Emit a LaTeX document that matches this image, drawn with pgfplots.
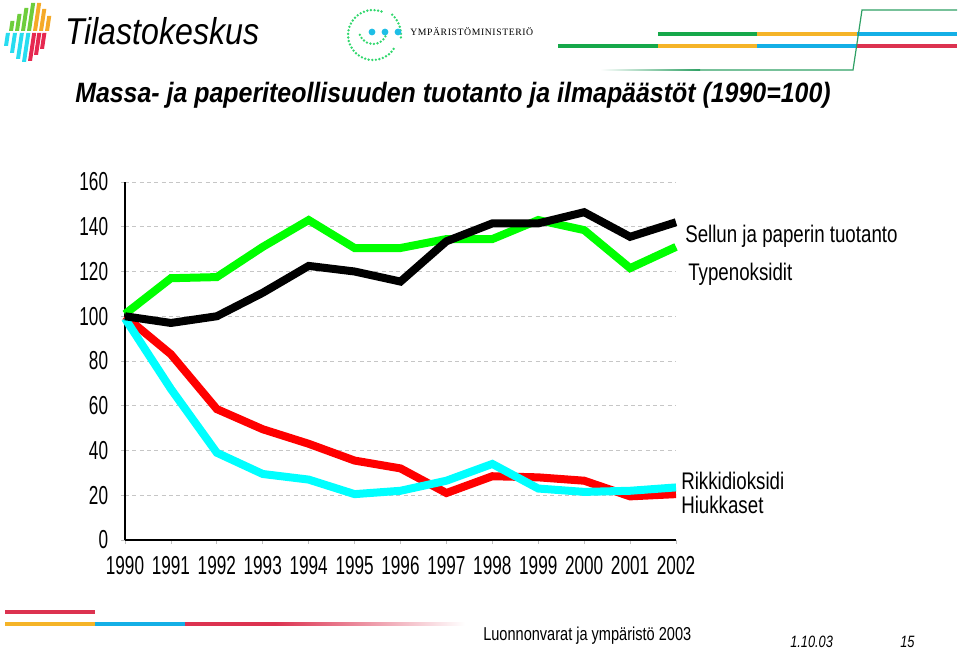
\documentclass[border=0pt]{standalone}
\usepackage{fontspec}
\setmainfont{Liberation Sans}
\newfontfamily\lab[FakeStretch=0.78]{Liberation Sans}
\newfontfamily\tickf[FakeStretch=0.66]{Liberation Sans}
\newfontfamily\titf[FakeStretch=0.89]{Liberation Sans}
\newfontfamily\logof[FakeStretch=0.86]{Liberation Sans}
\newfontfamily\ymf[LetterSpace=6]{Liberation Serif}
\usepackage{pgfplots}
\pgfplotsset{compat=1.18}
\definecolor{lgreen}{RGB}{0,255,0}
\definecolor{lcyan}{RGB}{0,255,255}
\definecolor{lred}{RGB}{255,0,0}
\definecolor{bgreen}{RGB}{22,168,74}
\definecolor{borange}{RGB}{245,180,40}
\definecolor{bblue}{RGB}{20,175,230}
\definecolor{bred}{RGB}{220,50,80}
\definecolor{tgreen}{RGB}{46,160,100}
\definecolor{dgreen}{RGB}{50,215,110}
\definecolor{dcyan}{RGB}{30,190,230}
\definecolor{kgreen}{RGB}{110,205,60}
\definecolor{korange}{RGB}{245,170,40}
\definecolor{kcyan}{RGB}{40,220,240}
\definecolor{kred}{RGB}{230,40,80}
\newcommand\lbar[4]{\fill[#4] (#1,#3) -- ({#1+4},#3) -- ({#1+4+0.15*(#3-#2)},#2) -- ({#1+0.15*(#3-#2)},#2) -- cycle;}
\begin{document}
\begin{tikzpicture}[x=0.75pt,y=-0.75pt]
\useasboundingbox (0,0) rectangle (960,649);
% Tilastokeskus logo
\lbar{9}{21}{31}{kgreen}\lbar{15}{14}{31}{kgreen}\lbar{21}{8}{31}{kgreen}\lbar{27}{3}{31}{kgreen}
\lbar{33}{3}{31}{korange}\lbar{39}{9}{31}{korange}\lbar{45}{16}{31}{korange}
\lbar{4}{33}{46}{kcyan}\lbar{10}{33}{53}{kcyan}\lbar{16}{33}{59}{kcyan}\lbar{22}{33}{62}{kcyan}
\lbar{28}{33}{61}{kred}\lbar{34}{33}{55}{kred}\lbar{40}{33}{49}{kred}
\node[anchor=base west, inner sep=0pt] at (65,45) {\logof\itshape\fontsize{28pt}{28pt}\selectfont Tilastokeskus};
% Ymparistoministerio logo
\draw[dgreen, line width=2pt, dash pattern=on 0pt off 2.7pt, line cap=round] (373,35) ++(-70:25) arc[start angle=-70, end angle=-330, radius=25];
\draw[dgreen, line width=2pt, dash pattern=on 0pt off 2.7pt, line cap=round] (373,30) ++(-200:14) arc[start angle=-200, end angle=-340, radius=14];
\draw[dgreen, line width=2pt, dash pattern=on 0pt off 2.7pt, line cap=round] (373,35) ++(5:28) arc[start angle=5, end angle=-50, radius=28];
\fill[dcyan] (372,32) circle (3.4);
\fill[dcyan] (385,32) circle (3.4);
\fill[dcyan] (398,32) circle (3.4);
\node[anchor=base west, inner sep=0pt] at (410,36) {\ymf\fontsize{7.3pt}{7.3pt}\selectfont YMPÄRISTÖMINISTERIÖ};
% header lines
\fill[bgreen] (658,32) rectangle (757,36);
\fill[borange] (757,32) rectangle (857,36);
\fill[bblue] (857,32) rectangle (957,36);
\fill[bgreen] (558,44) rectangle (658,48);
\fill[borange] (658,44) rectangle (757,48);
\fill[bblue] (757,44) rectangle (857,48);
\fill[bred] (857,44) rectangle (957,48);
\shade[left color=white, right color=tgreen] (600,69.2) rectangle (700,70.8);
\draw[tgreen, line width=0.9pt] (700,70) -- (853,70) -- (862,10) -- (957,10);
% footer lines
\fill[bred] (5,610) rectangle (95,614);
\fill[borange] (5,622) rectangle (95,626);
\fill[bblue] (95,622) rectangle (185,626);
\fill[bred] (185,622) rectangle (275,626);
\shade[left color=bred, right color=white] (275,622.8) rectangle (465,625.5);
% title
\node[anchor=base west, inner sep=0pt] at (75,103) {\titf\bfseries\itshape\fontsize{21pt}{21pt}\selectfont Massa- ja paperiteollisuuden tuotanto ja ilmapäästöt (1990=100)};
% chart
\begin{axis}[
  at={(93.75pt,-405pt)}, anchor=south west,
  scale only axis, width=413.25pt, height=268.5pt,
  xmin=1990, xmax=2002, ymin=0, ymax=160,
  clip=false,
  axis x line*=bottom, axis y line*=left,
  axis line style={black, line width=1.1pt, -},
  xtick={1990,1991,...,2002}, ytick={0,20,...,160},
  tick align=outside, major tick length=3pt,
  tick style={gray!50, line width=0.6pt},
  ymajorgrids, grid style={gray!45, line width=0.6pt, dash pattern=on 3pt off 2.5pt},
  /pgf/number format/1000 sep={},
  /pgf/number format/assume math mode=true,
  tick label style={font=\tickf\fontsize{19.5pt}{19.5pt}\selectfont, inner sep=0pt},
  yticklabel style={anchor=east, xshift=-9.5pt},
  xticklabel style={anchor=north, yshift=-9pt},
]
\addplot[lred, line width=6pt, line join=miter] coordinates {(1990,100)(1991,83)(1992,58.5)(1993,49.5)(1994,43)(1995,35.5)(1996,32)(1997,21)(1998,28.5)(1999,28)(2000,26.5)(2001,19.5)(2002,20.5)};
\addplot[lcyan, line width=6pt, line join=miter] coordinates {(1990,99)(1991,67.5)(1992,39)(1993,29.5)(1994,27)(1995,20.5)(1996,22)(1997,26.5)(1998,34)(1999,23)(2000,21.5)(2001,22)(2002,23.5)};
\addplot[lgreen, line width=6pt, line join=miter] coordinates {(1990,101)(1991,117)(1992,117.5)(1993,131)(1994,143)(1995,130.5)(1996,130.5)(1997,134.5)(1998,134.5)(1999,143)(2000,138.5)(2001,121.5)(2002,131)};
\addplot[black, line width=6pt, line join=miter] coordinates {(1990,100)(1991,97)(1992,100)(1993,110.5)(1994,122.5)(1995,120)(1996,115.5)(1997,133.5)(1998,141.5)(1999,141.5)(2000,146.5)(2001,135.5)(2002,142)};
\end{axis}
% series labels
\node[anchor=base west, inner sep=0pt] at (685,242) {\lab\fontsize{18pt}{18pt}\selectfont Sellun ja paperin tuotanto};
\node[anchor=base west, inner sep=0pt] at (688,280) {\lab\fontsize{18pt}{18pt}\selectfont Typenoksidit};
\node[anchor=base west, inner sep=0pt] at (681,489) {\lab\fontsize{18pt}{18pt}\selectfont Rikkidioksidi};
\node[anchor=base west, inner sep=0pt] at (681,513) {\lab\fontsize{18pt}{18pt}\selectfont Hiukkaset};
% footer text
\node[anchor=base west, inner sep=0pt] at (483,640) {\lab\fontsize{14pt}{14pt}\selectfont Luonnonvarat ja ympäristö 2003};
\node[anchor=base west, inner sep=0pt] at (790,647) {\lab\itshape\fontsize{12.3pt}{12.3pt}\selectfont 1.10.03};
\node[anchor=base west, inner sep=0pt] at (900,647) {\lab\itshape\fontsize{12.3pt}{12.3pt}\selectfont 15};
\end{tikzpicture}
\end{document}
